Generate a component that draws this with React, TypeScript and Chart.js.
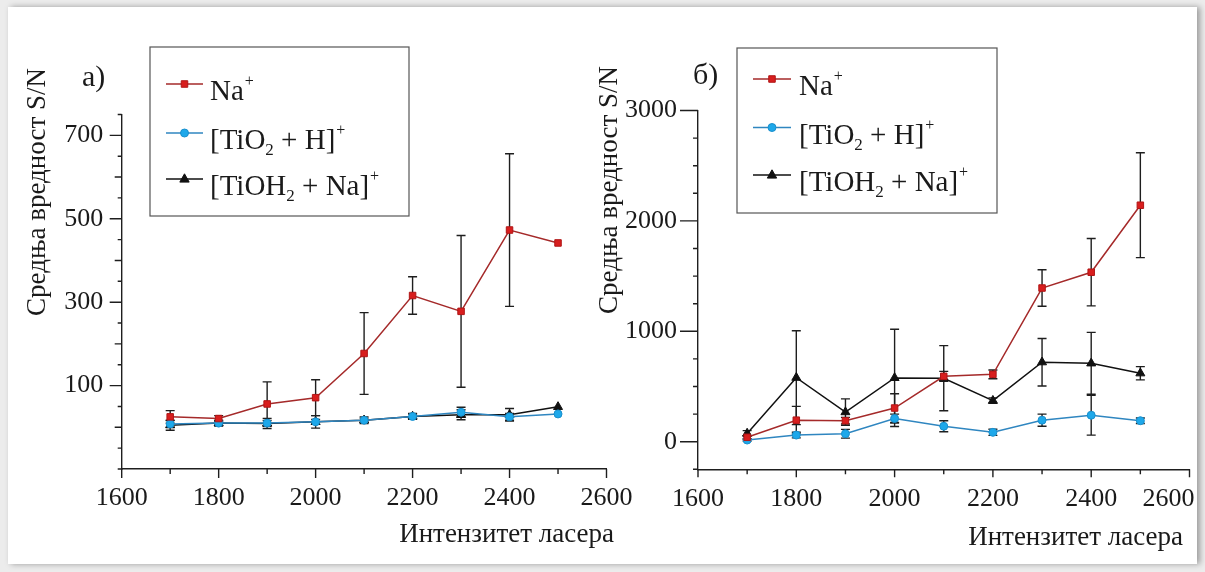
import React, { useEffect, useRef } from 'react';
import { Chart, registerables } from 'chart.js';

Chart.register(...registerables);

// ---------- data ----------
const intensities = [1700, 1800, 1900, 2000, 2100, 2200, 2300, 2400, 2500];

// panel a)
const naA = [25, 21, 56, 71, 177, 316, 278, 473, 442];
const naAErr = [15, 7, 53, 43, 98, 45, 182, 183, 0];
const tio2A = [8, 10, 10, 13, 17, 26, 36, 25, 32];
const tio2AErr = [8, 5, 6, 6, 5, 6, 12, 8, 0];
const tiohA = [5, 10, 9, 13, 17, 26, 30, 30, 49];
const tiohAErr = [12, 7, 12, 15, 8, 7, 12, 15, 0];

// panel б)
const naB = [40, 195, 190, 305, 592, 610, 1392, 1535, 2142];
const naBErr = [15, 125, 30, 130, 45, 40, 165, 305, 475];
const tio2B = [15, 60, 72, 210, 140, 85, 195, 240, 190];
const tio2BErr = [10, 25, 40, 40, 50, 28, 55, 180, 25];
const tiohB = [75, 580, 268, 578, 575, 372, 720, 710, 620];
const tiohBErr = [25, 425, 120, 440, 295, 25, 215, 280, 60];

// tick labels
const xTickLabels = [1600, 1800, 2000, 2200, 2400, 2600];
const yTickLabelsA = [100, 300, 500, 700];
const yTickLabelsB = [0, 1000, 2000, 3000];

// text
const yTitle = 'Средња вредност S/N';
const xTitle = 'Интензитет ласера';
const tagA = 'a)';
const tagB = 'б)';

type Piece = { t: string; k?: 'sub' | 'sup' };
const labelNa: Piece[] = [{ t: 'Na' }, { t: '+', k: 'sup' }];
const labelTiO2: Piece[] = [{ t: '[TiO' }, { t: '2', k: 'sub' }, { t: ' + H]' }, { t: '+', k: 'sup' }];
const labelTiOH2: Piece[] = [{ t: '[TiOH' }, { t: '2', k: 'sub' }, { t: ' + Na]' }, { t: '+', k: 'sup' }];

// ---------- styles ----------
const FONT = '"Liberation Serif", "Times New Roman", serif';
const CW = 1205;
const CH = 572;
const Y_W = 100;
const X_H = 60;
const AXIS = '#1e1e1e';

type Series = {
  label: Piece[];
  values: number[];
  err: number[];
  line: string;
  fill: string;
  stroke: string;
  shape: 'rect' | 'circle' | 'triangle';
  radius: number;
};

const styleNa = { line: '#a52a2a', fill: '#d81e1e', stroke: '#b01616', shape: 'rect' as const, radius: 4.6 };
const styleTiO2 = { line: '#2f86c0', fill: '#1ea8ea', stroke: '#1a8fcc', shape: 'circle' as const, radius: 4 };
const styleTiOH2 = { line: '#111111', fill: '#111111', stroke: '#111111', shape: 'triangle' as const, radius: 5.2 };

type Panel = {
  area: { left: number; right: number; top: number; bottom: number };
  yMin: number; yMax: number; yStep: number; yLabels: number[];
  yTickLen: (v: number) => number;
  xTickLen: (v: number) => number;
  yPad: number;
  xPad: number;
  lastLabelShift: number | null;
  series: Series[];
  legend: { box: [number, number, number, number]; lineX: [number, number]; textX: number; rows: number[] };
  tag: { text: string; x: number; y: number };
  yTitlePos: { x: number; y: number };
  xTitlePos: { xEnd: number; y: number };
};

const panelA: Panel = {
  area: { left: 121.7, right: 606.5, top: 114.5, bottom: 469 },
  yMin: -100, yMax: 750, yStep: 50, yLabels: yTickLabelsA,
  yTickLen: (v) => (yTickLabelsA.includes(v) ? 12 : v % 200 === 0 ? 7 : 4),
  xTickLen: (v) => (v % 200 === 0 ? 9 : 5),
  yPad: 18.4,
  xPad: 14,
  lastLabelShift: null,
  series: [
    { label: labelNa, values: naA, err: naAErr, ...styleNa },
    { label: labelTiO2, values: tio2A, err: tio2AErr, ...styleTiO2 },
    { label: labelTiOH2, values: tiohA, err: tiohAErr, ...styleTiOH2 },
  ],
  legend: { box: [150, 47, 409, 216], lineX: [166, 203], textX: 210, rows: [84, 133, 179] },
  tag: { text: tagA, x: 82, y: 86 },
  yTitlePos: { x: 37.5, y: 192 },
  xTitlePos: { xEnd: 614, y: 542 },
};

const panelB: Panel = {
  area: { left: 698, right: 1189.5, top: 110.5, bottom: 469.3 },
  yMin: -250, yMax: 3000, yStep: 250, yLabels: yTickLabelsB,
  yTickLen: (v) => (yTickLabelsB.includes(v) ? 18 : 5),
  xTickLen: (v) => (v % 200 === 0 ? 8 : 5),
  yPad: 21,
  xPad: 14,
  lastLabelShift: 5,
  series: [
    { label: labelNa, values: naB, err: naBErr, ...styleNa },
    { label: labelTiO2, values: tio2B, err: tio2BErr, ...styleTiO2 },
    { label: labelTiOH2, values: tiohB, err: tiohBErr, ...styleTiOH2 },
  ],
  legend: { box: [737, 48, 997, 213], lineX: [753, 791], textX: 799, rows: [79, 127.5, 175] },
  tag: { text: tagB, x: 693, y: 84 },
  yTitlePos: { x: 610, y: 190 },
  xTitlePos: { xEnd: 1183, y: 545 },
};

function drawMarker(ctx: CanvasRenderingContext2D, s: Series, x: number, y: number) {
  ctx.save();
  ctx.fillStyle = s.fill;
  ctx.strokeStyle = s.stroke;
  ctx.lineWidth = 1;
  ctx.beginPath();
  if (s.shape === 'rect') {
    const h = s.radius * Math.SQRT1_2;
    ctx.rect(x - h, y - h, 2 * h, 2 * h);
  } else if (s.shape === 'circle') {
    ctx.arc(x, y, s.radius, 0, Math.PI * 2);
  } else {
    const r = s.radius;
    ctx.moveTo(x, y - r);
    ctx.lineTo(x + r * 0.9, y + r * 0.6);
    ctx.lineTo(x - r * 0.9, y + r * 0.6);
    ctx.closePath();
  }
  ctx.fill();
  ctx.stroke();
  ctx.restore();
}

function drawPieces(ctx: CanvasRenderingContext2D, pieces: Piece[], x: number, baseline: number) {
  let cx = x;
  for (const p of pieces) {
    if (p.k === 'sub') {
      ctx.font = `17px ${FONT}`;
      ctx.fillText(p.t, cx, baseline + 6);
    } else if (p.k === 'sup') {
      ctx.font = `16px ${FONT}`;
      ctx.fillText(p.t, cx + 1, baseline - 14);
    } else {
      ctx.font = `29px ${FONT}`;
      ctx.fillText(p.t, cx, baseline);
    }
    cx += ctx.measureText(p.t).width;
  }
}

function makeConfig(panel: Panel): any {
  const { area } = panel;
  const lastX = xTickLabels[xTickLabels.length - 1];
  const decor = {
    id: 'decor',
    beforeDatasetsDraw(chart: any) {
      const ctx: CanvasRenderingContext2D = chart.ctx;
      const xs = chart.scales.x;
      const ys = chart.scales.y;
      ctx.save();
      ctx.strokeStyle = AXIS;
      ctx.lineWidth = 1.4;
      panel.series.forEach((s) => {
        s.values.forEach((v, j) => {
          const e = s.err[j];
          if (!e) return;
          const px = xs.getPixelForValue(intensities[j]);
          const top = ys.getPixelForValue(v + e);
          const bot = ys.getPixelForValue(v - e);
          ctx.beginPath();
          ctx.moveTo(px, top);
          ctx.lineTo(px, bot);
          ctx.moveTo(px - 4.5, top);
          ctx.lineTo(px + 4.5, top);
          ctx.moveTo(px - 4.5, bot);
          ctx.lineTo(px + 4.5, bot);
          ctx.stroke();
        });
      });
      ctx.restore();
    },
    afterDraw(chart: any) {
      const ctx: CanvasRenderingContext2D = chart.ctx;
      const xs = chart.scales.x;
      const ys = chart.scales.y;
      const ca = chart.chartArea;
      // tick marks
      ctx.save();
      ctx.strokeStyle = AXIS;
      ctx.lineWidth = 1.4;
      ctx.beginPath();
      ys.ticks.forEach((t: any) => {
        const py = ys.getPixelForValue(t.value);
        ctx.moveTo(ca.left, py);
        ctx.lineTo(ca.left - panel.yTickLen(t.value), py);
      });
      xs.ticks.forEach((t: any) => {
        const px = xs.getPixelForValue(t.value);
        ctx.moveTo(px, ca.bottom);
        ctx.lineTo(px, ca.bottom + panel.xTickLen(t.value));
      });
      ctx.stroke();

      // last x label pushed inside the frame, as in the original
      if (panel.lastLabelShift !== null) {
        const items: any[] = xs._labelItems || [];
        const ref = items.find((it: any) => it.label !== '');
        ctx.fillStyle = '#1a1a1a';
        ctx.font = `26px ${FONT}`;
        ctx.textAlign = 'right';
        let ly = ca.bottom + panel.xPad;
        let tb: CanvasTextBaseline = 'top';
        if (ref && ref.options && ref.options.translation) {
          ly = ref.options.translation[1] + (ref.textOffset || 0);
          tb = ref.options.textBaseline || 'middle';
        }
        ctx.textBaseline = tb;
        ctx.fillText(String(lastX), xs.getPixelForValue(lastX) + panel.lastLabelShift, ly);
      }

      // legend
      const lg = panel.legend;
      ctx.strokeStyle = '#555';
      ctx.lineWidth = 1.2;
      ctx.strokeRect(lg.box[0], lg.box[1], lg.box[2] - lg.box[0], lg.box[3] - lg.box[1]);
      panel.series.forEach((s, i) => {
        const y = lg.rows[i];
        ctx.strokeStyle = s.line;
        ctx.lineWidth = 1.5;
        ctx.beginPath();
        ctx.moveTo(lg.lineX[0], y);
        ctx.lineTo(lg.lineX[1], y);
        ctx.stroke();
        drawMarker(ctx, s, (lg.lineX[0] + lg.lineX[1]) / 2, y);
        ctx.fillStyle = '#1a1a1a';
        ctx.textAlign = 'left';
        ctx.textBaseline = 'alphabetic';
        drawPieces(ctx, s.label, lg.textX, y + 16);
      });

      // tag
      ctx.fillStyle = '#1a1a1a';
      ctx.font = `30px ${FONT}`;
      ctx.textAlign = 'left';
      ctx.textBaseline = 'alphabetic';
      ctx.fillText(panel.tag.text, panel.tag.x, panel.tag.y);

      // axis titles
      ctx.font = `27px ${FONT}`;
      ctx.textAlign = 'right';
      ctx.fillText(xTitle, panel.xTitlePos.xEnd, panel.xTitlePos.y);
      ctx.translate(panel.yTitlePos.x, panel.yTitlePos.y);
      ctx.rotate(-Math.PI / 2);
      ctx.textAlign = 'center';
      ctx.textBaseline = 'middle';
      ctx.fillText(yTitle, 0, 0);
      ctx.restore();
    },
  };

  return {
    type: 'line',
    data: {
      datasets: panel.series.map((s) => ({
        data: s.values.map((v, j) => ({ x: intensities[j], y: v })),
        borderColor: s.line,
        borderWidth: 1.5,
        pointStyle: s.shape,
        pointRadius: s.radius,
        pointBackgroundColor: s.fill,
        pointBorderColor: s.stroke,
        pointBorderWidth: 1,
        tension: 0,
        fill: false,
      })),
    },
    options: {
      responsive: false,
      animation: false,
      devicePixelRatio: 1,
      events: [],
      layout: {
        padding: {
          left: area.left - Y_W,
          right: CW - area.right,
          top: area.top,
          bottom: CH - area.bottom - X_H,
        },
      },
      plugins: { legend: { display: false }, tooltip: { enabled: false }, title: { display: false } },
      scales: {
        x: {
          type: 'linear',
          min: 1600,
          max: 2600,
          grid: { display: true, drawOnChartArea: false, drawTicks: false },
          border: { display: true, color: AXIS, width: 1.4 },
          ticks: {
            stepSize: 100,
            autoSkip: false,
            maxRotation: 0,
            minRotation: 0,
            padding: panel.xPad,
            color: '#1a1a1a',
            font: { family: FONT, size: 26 },
            callback: (v: number) =>
              xTickLabels.includes(v) && !(panel.lastLabelShift !== null && v === lastX) ? String(v) : '',
          },
          afterFit: (s: any) => {
            s.height = X_H;
            s.paddingLeft = 0;
            s.paddingRight = 0;
          },
        },
        y: {
          type: 'linear',
          min: panel.yMin,
          max: panel.yMax,
          grid: { display: true, drawOnChartArea: false, drawTicks: false },
          border: { display: true, color: AXIS, width: 1.4 },
          ticks: {
            stepSize: panel.yStep,
            autoSkip: false,
            padding: panel.yPad,
            color: '#1a1a1a',
            font: { family: FONT, size: 26 },
            callback: (v: number) => (panel.yLabels.includes(v) ? String(v) : ''),
          },
          afterFit: (s: any) => {
            s.width = Y_W;
            s.paddingTop = 0;
            s.paddingBottom = 0;
          },
        },
      },
    },
    plugins: [decor],
  };
}

function PanelChart({ panel }: { panel: Panel }) {
  const ref = useRef<HTMLCanvasElement | null>(null);
  useEffect(() => {
    if (!ref.current) return;
    const chart = new Chart(ref.current, makeConfig(panel));
    return () => chart.destroy();
  }, [panel]);
  return (
    <canvas
      ref={ref}
      width={CW}
      height={CH}
      style={{ position: 'absolute', left: -8, top: -7, width: CW, height: CH }}
    />
  );
}

export default function App() {
  return (
    <div
      style={{
        position: 'fixed',
        left: 0,
        top: 0,
        width: CW,
        height: CH,
        background: '#ececec',
        overflow: 'hidden',
      }}
    >
      <div
        style={{
          position: 'absolute',
          left: 8,
          top: 7,
          width: 1189,
          height: 557,
          background: '#ffffff',
          boxShadow: '3px 0 6px rgba(0,0,0,0.35)',
          overflow: 'hidden',
        }}
      >
        <PanelChart panel={panelA} />
        <PanelChart panel={panelB} />
      </div>
    </div>
  );
}
